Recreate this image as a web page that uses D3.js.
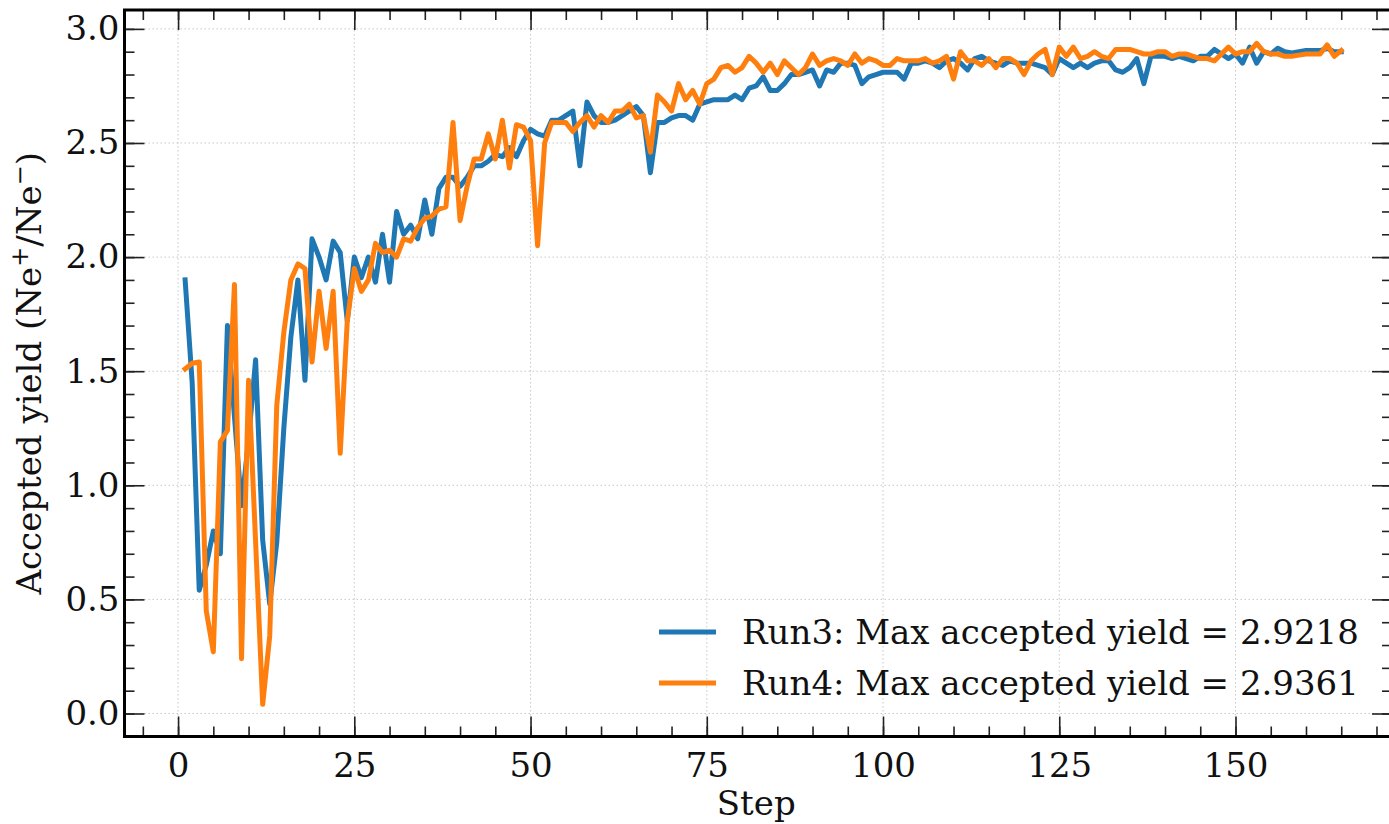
<!DOCTYPE html>
<html>
<head>
<meta charset="utf-8">
<script src="https://d3js.org/d3.v7.min.js"></script>
<style>
  body {
    margin: 0;
    background: #fff;
  }

  svg {
    display: block;
    font-family: "DejaVu Serif", serif;
  }

  .grid line {
    stroke: #c8c8c8;
    stroke-width: 1;
    stroke-dasharray: 1.5 2.5;
  }

  .axis line {
    stroke: #222;
    stroke-width: 1.6;
  }

  .axis text {
    font-family: "DejaVu Serif", serif;
    font-size: 34px;
    fill: #111;
  }

  .run {
    fill: none;
    stroke-width: 5;
    stroke-linejoin: round;
    stroke-linecap: square;
  }

  .frame {
    fill: none;
    stroke: #000;
    stroke-width: 3;
  }

  .label, .legend text {
    font-size: 34px;
    fill: #111;
  }
</style>
</head>
<body>
<script>
  // data
  var steps = d3.range(1, 166);

  var run3 = [
    1.90,1.45,0.54,0.65,0.80,0.70,1.70,1.30,0.91,1.20,
    1.55,0.76,0.48,0.75,1.25,1.65,1.90,1.46,2.08,2.00,
    1.90,2.07,2.02,1.72,2.00,1.91,2.00,1.89,2.10,1.89,
    2.20,2.10,2.14,2.08,2.25,2.10,2.30,2.35,2.35,2.31,
    2.35,2.40,2.40,2.42,2.45,2.44,2.48,2.44,2.51,2.56,
    2.54,2.53,2.60,2.60,2.62,2.64,2.40,2.68,2.62,2.59,
    2.59,2.60,2.62,2.64,2.66,2.62,2.37,2.59,2.59,2.61,
    2.62,2.62,2.60,2.67,2.68,2.69,2.69,2.69,2.71,2.69,
    2.74,2.75,2.79,2.73,2.73,2.76,2.80,2.80,2.81,2.82,
    2.75,2.82,2.81,2.85,2.85,2.84,2.76,2.79,2.80,2.81,
    2.81,2.81,2.78,2.85,2.85,2.86,2.85,2.83,2.86,2.87,
    2.85,2.82,2.87,2.88,2.86,2.85,2.84,2.86,2.85,2.85,
    2.85,2.84,2.83,2.80,2.87,2.85,2.83,2.85,2.83,2.85,
    2.86,2.86,2.82,2.81,2.83,2.87,2.76,2.88,2.88,2.88,
    2.87,2.88,2.87,2.86,2.88,2.88,2.91,2.89,2.87,2.89,
    2.85,2.92,2.85,2.90,2.89,2.915,2.90,2.895,2.90,2.905,
    2.905,2.905,2.915,2.90,2.90
  ];

  var run4 = [
    1.51,1.535,1.54,0.45,0.27,1.19,1.24,1.88,0.24,1.46,
    0.75,0.04,0.34,1.35,1.67,1.90,1.97,1.95,1.54,1.85,
    1.60,1.85,1.14,1.72,1.95,1.85,1.90,2.06,2.02,2.03,
    2.00,2.08,2.07,2.13,2.17,2.18,2.21,2.22,2.59,2.16,
    2.31,2.43,2.43,2.54,2.43,2.60,2.39,2.58,2.57,2.51,
    2.05,2.50,2.59,2.59,2.59,2.55,2.59,2.62,2.57,2.62,
    2.59,2.64,2.64,2.67,2.61,2.62,2.46,2.71,2.68,2.64,
    2.76,2.69,2.73,2.67,2.76,2.78,2.83,2.84,2.81,2.83,
    2.88,2.85,2.81,2.85,2.80,2.86,2.83,2.80,2.83,2.89,
    2.84,2.86,2.87,2.86,2.84,2.89,2.85,2.87,2.86,2.84,
    2.84,2.87,2.86,2.86,2.86,2.87,2.85,2.86,2.88,2.78,
    2.90,2.86,2.86,2.84,2.87,2.83,2.87,2.87,2.85,2.80,
    2.86,2.89,2.91,2.80,2.92,2.88,2.92,2.87,2.88,2.90,
    2.88,2.87,2.91,2.91,2.91,2.90,2.89,2.89,2.90,2.90,
    2.88,2.89,2.89,2.88,2.87,2.87,2.86,2.89,2.92,2.89,
    2.90,2.90,2.936,2.90,2.89,2.89,2.88,2.88,2.885,2.89,
    2.89,2.89,2.93,2.88,2.905
  ];

  var seriesColors = ["#1f77b4", "#ff7f0e"];
  var legendLabels = ["Run3: Max accepted yield = 2.9218", "Run4: Max accepted yield = 2.9361"];

  var xTicks = [0, 25, 50, 75, 100, 125, 150];
  var xMinorTicks = d3.range(-5, 175, 5);
  var yTicks = [0, 0.5, 1.0, 1.5, 2.0, 2.5, 3.0];
  var yMinorTicks = d3.range(-1, 31).map(d => d / 10);

  var W = 1389, H = 824;
  var margin = {top: 10, right: -3, bottom: 87.5, left: 124.5};
  var width = W - margin.left - margin.right,
      height = H - margin.top - margin.bottom;

  var x = d3.scaleLinear()
      .domain([-7.6, 172.2])
      .range([0, width]);

  var y = d3.scaleLinear()
      .domain([-0.1008, 3.0828])
      .range([height, 0]);

  var svg = d3.select("body").append("svg")
      .attr("width", W)
      .attr("height", H);

  var g = svg.append("g")
      .attr("transform", `translate(${margin.left},${margin.top})`);

  // grid
  g.append("g")
      .attr("class", "grid")
    .selectAll("line.gx")
    .data(xTicks)
    .enter().append("line")
      .attr("x1", d => x(d)).attr("x2", d => x(d))
      .attr("y1", 0).attr("y2", height);

  g.select(".grid").selectAll("line.gy")
    .data(yTicks)
    .enter().append("line")
      .attr("class", "gy")
      .attr("x1", 0).attr("x2", width)
      .attr("y1", d => y(d)).attr("y2", d => y(d));

  // lines
  var line = d3.line()
      .x((d, i) => x(steps[i]))
      .y(d => y(d));

  [run3, run4].forEach(function(s, i) {
    g.append("path")
        .datum(s)
        .attr("class", "run")
        .attr("stroke", seriesColors[i])
        .attr("d", line);
  });

  // axes, ticks pointing inward on all four sides
  function noDomain(sel) { sel.select(".domain").remove(); }

  g.append("g")
      .attr("class", "axis")
      .attr("transform", `translate(0,${height})`)
      .call(d3.axisBottom(x).tickValues(xMinorTicks).tickSize(-10).tickFormat(""))
      .call(noDomain);
  g.append("g")
      .attr("class", "axis")
      .attr("transform", `translate(0,${height})`)
      .call(d3.axisBottom(x).tickValues(xTicks).tickSize(-20).tickPadding(16))
      .call(noDomain);

  g.append("g")
      .attr("class", "axis")
      .call(d3.axisTop(x).tickValues(xMinorTicks).tickSize(-10).tickFormat(""))
      .call(noDomain);
  g.append("g")
      .attr("class", "axis")
      .call(d3.axisTop(x).tickValues(xTicks).tickSize(-20).tickFormat(""))
      .call(noDomain);

  g.append("g")
      .attr("class", "axis")
      .call(d3.axisLeft(y).tickValues(yMinorTicks).tickSize(-10).tickFormat(""))
      .call(noDomain);
  g.append("g")
      .attr("class", "axis")
      .call(d3.axisLeft(y).tickValues(yTicks).tickSize(-20).tickPadding(5).tickFormat(d3.format(".1f")))
      .call(noDomain);

  g.append("g")
      .attr("class", "axis")
      .attr("transform", `translate(${width},0)`)
      .call(d3.axisRight(y).tickValues(yMinorTicks).tickSize(-10).tickFormat(""))
      .call(noDomain);
  g.append("g")
      .attr("class", "axis")
      .attr("transform", `translate(${width},0)`)
      .call(d3.axisRight(y).tickValues(yTicks).tickSize(-20).tickFormat(""))
      .call(noDomain);

  g.append("rect")
      .attr("class", "frame")
      .attr("width", width)
      .attr("height", height);

  // axis labels
  svg.append("text")
      .attr("class", "label")
      .attr("x", margin.left + width / 2 - 2)
      .attr("y", 815)
      .attr("text-anchor", "middle")
      .text("Step");

  var yl = svg.append("text")
      .attr("class", "label")
      .attr("transform", `translate(41,${margin.top + height / 2}) rotate(-90)`)
      .attr("text-anchor", "middle");
  yl.append("tspan").text("Accepted yield (Ne");
  yl.append("tspan").attr("dy", -13).attr("font-size", 24).text("+");
  yl.append("tspan").attr("dy", 13).text("/Ne");
  yl.append("tspan").attr("dy", -13).attr("font-size", 24).text("\u2212");
  yl.append("tspan").attr("dy", 13).text(")");

  // legend, lower right, no frame
  var legend = svg.append("g")
      .attr("class", "legend")
      .selectAll("g")
      .data(legendLabels)
    .enter().append("g")
      .attr("transform", (d, i) => `translate(659,${632 + i * 51})`);

  legend.append("line")
      .attr("x1", 0).attr("x2", 57)
      .attr("stroke", (d, i) => seriesColors[i])
      .attr("stroke-width", 5);

  legend.append("text")
      .attr("x", 83)
      .attr("y", 12)
      .text(d => d);
</script>
</body>
</html>
